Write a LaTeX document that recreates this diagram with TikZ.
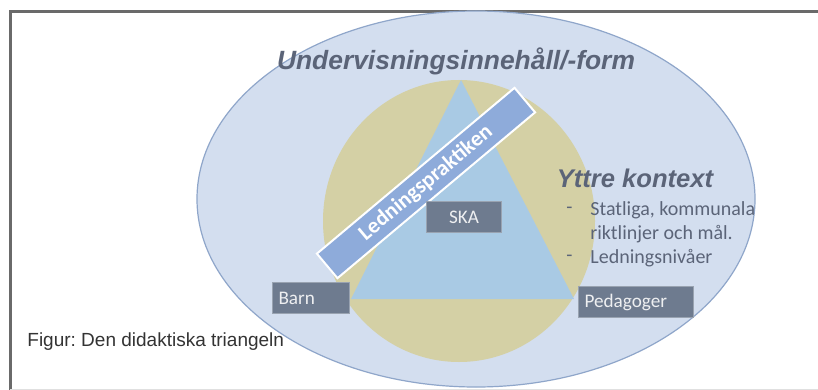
\documentclass[tikz,border=0pt]{standalone}
\usepackage{fontspec}
\setmainfont{Liberation Sans}
\newfontfamily\calibri{Carlito}
\frenchspacing
\definecolor{frame}{HTML}{6A6A6A}
\definecolor{outer}{HTML}{D3DEEF}
\definecolor{outerline}{HTML}{8FA6CA}
\definecolor{sand}{HTML}{D4D0A5}
\definecolor{sky}{HTML}{A9CAE4}
\definecolor{banner}{HTML}{8EABDA}
\definecolor{slate}{HTML}{6E7B8F}
\definecolor{ink}{HTML}{5B6478}
\definecolor{capt}{HTML}{333333}

\begin{document}
\begin{tikzpicture}[x=0.5pt,y=-0.5pt,
  labelbox/.style={fill=slate,draw=slate!70!white,line width=0.4pt,text=white!88!slate,
    font=\calibri\fontsize{9.6}{11}\selectfont,minimum height=15.5pt,inner sep=3pt},
  ctxt/.style={text=ink,font=\calibri\fontsize{10}{12}\selectfont,inner sep=0pt}]
  \useasboundingbox (0,0) rectangle (818,390);
  \fill[white] (0,0) rectangle (818,390);
  \draw[frame,line width=1.5pt] (818,12) -- (10,12) -- (10,390);
  \draw[black!12] (10,389) -- (818,389);
  % outer context and the didactic triangle
  \filldraw[fill=outer,draw=outerline,line width=0.6pt] (476,199) ellipse [x radius=279, y radius=188];
  \fill[sand] (459,221) ellipse [x radius=136, y radius=141];
  \fill[sky] (461,80) -- (351,299) -- (574,299) -- cycle;
  \node[font=\bfseries\itshape\fontsize{13.2}{15}\selectfont,text=ink] (title) at (456,61) {Undervisningsinnehåll/-form};
  \node[rotate=40,fill=banner,draw=white,line width=1pt,minimum width=129pt,minimum height=16pt,
    inner sep=0pt,text=white,font=\calibri\bfseries\fontsize{11}{13}\selectfont] (ledning) at (426,183) {Ledningspraktiken};
  \node[labelbox,minimum width=37.5pt] (ska) at (464,217) {SKA};
  \node[labelbox,minimum width=38.5pt,text width=32.5pt,align=left] (barn) at (311,298) {Barn};
  \node[labelbox,minimum width=57.5pt,text width=51.5pt,align=left] (ped) at (636,302) {Pedagoger};
  % yttre kontext
  \node[font=\bfseries\itshape\fontsize{12.8}{15}\selectfont,text=ink] (yttre) at (635,178) {Yttre kontext};
  \node[ctxt,anchor=west] (b1) at (590,210) {Statliga, kommunala};
  \node[ctxt,anchor=west] (b2) at (590,234) {riktlinjer och mål.};
  \node[ctxt,anchor=west] (b3) at (590,258) {Ledningsnivåer};
  \node[ctxt,anchor=east] (d1) at (573,210) {-};
  \node[ctxt,anchor=east] (d3) at (573,258) {-};
  \node[anchor=west,inner sep=0pt,text=capt,font=\fontsize{9.5}{11}\selectfont] (caption) at (27,342) {Figur: Den didaktiska triangeln};
\end{tikzpicture}
\end{document}
